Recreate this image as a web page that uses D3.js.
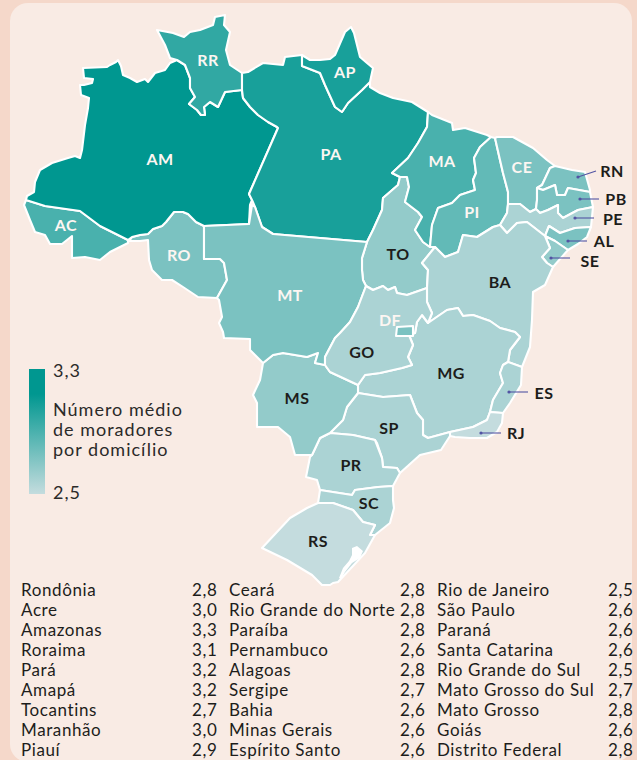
<!DOCTYPE html>
<html lang="pt">
<head>
<meta charset="utf-8">
<title>Número médio de moradores por domicílio</title>
<script src="https://cdn.jsdelivr.net/npm/d3@7"></script>
<style>
  html, body { margin: 0; padding: 0; background: #f5d8ca; }
  text { font-family: Lato, "Noto Sans", sans-serif; }
</style>
</head>
<body>
<div id="chart"></div>
<script>
// table order, same as the three columns under the map
const stateNames = ['Rondônia', 'Acre', 'Amazonas', 'Roraima', 'Pará', 'Amapá', 'Tocantins', 'Maranhão', 'Piauí',
  'Ceará', 'Rio Grande do Norte', 'Paraíba', 'Pernambuco', 'Alagoas', 'Sergipe', 'Bahia', 'Minas Gerais', 'Espírito Santo',
  'Rio de Janeiro', 'São Paulo', 'Paraná', 'Santa Catarina', 'Rio Grande do Sul', 'Mato Grosso do Sul', 'Mato Grosso', 'Goiás', 'Distrito Federal'];
const stateCodes = ['RO', 'AC', 'AM', 'RR', 'PA', 'AP', 'TO', 'MA', 'PI',
  'CE', 'RN', 'PB', 'PE', 'AL', 'SE', 'BA', 'MG', 'ES',
  'RJ', 'SP', 'PR', 'SC', 'RS', 'MS', 'MT', 'GO', 'DF'];
const stateValues = [2.8, 3.0, 3.3, 3.1, 3.2, 3.2, 2.7, 3.0, 2.9,
  2.8, 2.8, 2.8, 2.6, 2.8, 2.7, 2.6, 2.6, 2.6,
  2.5, 2.6, 2.6, 2.6, 2.5, 2.7, 2.8, 2.6, 2.8];
const legendDomain = [2.5, 3.3];
const legendLines = ['Número médio', 'de moradores', 'por domicílio'];

// state outlines
const outlines = {
  AM: [[26,200],[27,196],[34,192],[35,182],[40,170],[52,163],[68,158],[75,156],[80,158],[82,150],[85,125],[88,108],[89,98],[81,95],[80,85],[84,85],[92,83],[93,79],[84,78],[83,68],[107,67],[110,65],[116,62],[118,60],[121,66],[123,75],[130,78],[137,82],[145,79],[148,82],[155,73],[165,70],[170,63],[177,60],[185,65],[190,78],[190,88],[195,97],[189,104],[197,110],[201,115],[205,115],[204,107],[210,102],[218,107],[225,92],[242,90],[243,98],[250,107],[258,115],[268,122],[277,127],[278,128],[249,194],[252,200],[250,205],[249,224],[204,226],[196,222],[188,214],[183,212],[174,212],[166,222],[162,226],[153,229],[148,234],[140,235],[132,237],[128,240],[100,226],[80,211],[45,206]],
  AC: [[26,200],[45,206],[80,211],[100,226],[128,240],[128,243],[110,252],[100,260],[85,257],[72,258],[72,236],[62,244],[50,244],[45,235],[35,232],[30,220],[24,205]],
  RO: [[174,212],[183,212],[188,214],[196,222],[204,226],[204,259],[220,259],[224,263],[227,280],[217,298],[198,297],[183,287],[172,280],[162,280],[152,270],[149,260],[148,240],[140,241],[129,241],[132,237],[140,235],[148,234],[153,229],[162,226],[166,222]],
  RR: [[157,30],[173,33],[184,37],[190,32],[200,30],[213,25],[215,17],[225,15],[224,25],[230,32],[226,50],[230,65],[242,73],[242,90],[225,92],[218,107],[210,102],[204,107],[205,115],[201,115],[197,110],[189,104],[195,97],[190,88],[190,78],[185,65],[177,60],[170,58],[165,45]],
  PA: [[242,73],[248,72],[263,63],[283,65],[285,57],[302,55],[302,66],[320,73],[325,85],[335,107],[342,112],[348,103],[362,90],[370,82],[370,87],[380,93],[393,98],[412,102],[428,112],[427,127],[418,143],[408,158],[392,173],[400,177],[398,185],[383,198],[382,210],[373,230],[367,242],[273,234],[262,227],[255,207],[252,200],[249,194],[278,128],[277,127],[268,122],[258,115],[250,107],[243,98],[242,90]],
  AP: [[302,55],[302,66],[320,73],[325,85],[335,107],[342,112],[348,103],[362,90],[370,82],[373,68],[367,63],[360,57],[354,33],[351,27],[345,32],[335,55],[330,59],[320,60],[310,60]],
  MT: [[204,226],[249,224],[252,205],[255,207],[262,227],[273,234],[367,242],[362,258],[362,270],[363,280],[366,286],[358,307],[350,322],[340,333],[335,338],[325,357],[325,365],[315,363],[318,353],[307,357],[283,353],[273,355],[263,363],[250,350],[250,339],[224,338],[223,332],[219,323],[222,317],[219,300],[217,298],[227,280],[224,263],[220,259],[204,259]],
  TO: [[400,177],[407,177],[409,187],[405,202],[418,212],[422,217],[415,230],[423,242],[430,247],[435,247],[422,263],[428,270],[427,288],[407,295],[397,293],[395,287],[388,290],[383,286],[373,290],[366,286],[363,280],[362,270],[362,258],[367,242],[373,230],[382,210],[383,198],[398,185]],
  MA: [[428,112],[432,115],[452,123],[453,130],[465,128],[487,135],[491,137],[480,147],[474,158],[476,173],[473,180],[475,190],[460,195],[452,203],[438,208],[432,225],[430,247],[423,242],[415,230],[422,217],[418,212],[405,202],[409,187],[407,177],[400,177],[392,173],[408,158],[418,143],[427,127]],
  PI: [[491,137],[495,138],[500,160],[503,173],[508,192],[508,204],[507,213],[500,225],[493,227],[477,237],[463,235],[458,252],[445,257],[435,247],[430,247],[432,225],[438,208],[452,203],[460,195],[475,190],[473,180],[476,173],[474,158],[480,147]],
  CE: [[495,138],[497,137],[513,137],[533,148],[547,160],[555,166],[550,168],[542,185],[537,188],[537,200],[536,209],[530,212],[520,204],[508,204],[508,192],[503,173],[500,160]],
  RN: [[555,166],[572,170],[585,172],[590,190],[590,192],[568,188],[565,195],[557,195],[555,185],[543,190],[537,188],[542,185],[550,168]],
  PB: [[537,188],[543,190],[555,185],[557,195],[565,195],[568,188],[590,192],[593,207],[578,210],[563,218],[558,213],[558,205],[548,210],[540,213],[536,209],[537,200]],
  PE: [[508,204],[520,204],[530,212],[536,209],[540,213],[548,210],[558,205],[558,213],[563,218],[578,210],[593,207],[591,227],[575,228],[560,233],[549,226],[545,236],[527,222],[517,223],[507,233],[500,225],[507,213]],
  AL: [[545,236],[549,226],[560,233],[575,228],[591,227],[587,237],[578,244],[568,250],[555,241]],
  SE: [[545,236],[555,241],[568,250],[553,267],[547,263],[542,257],[550,248]],
  BA: [[435,247],[445,257],[458,252],[463,235],[477,237],[493,227],[500,225],[507,233],[517,223],[527,222],[545,236],[550,248],[542,257],[547,263],[553,267],[545,285],[533,292],[532,320],[530,347],[522,367],[508,362],[510,350],[520,337],[515,332],[500,328],[490,321],[473,315],[463,316],[458,308],[447,310],[428,323],[432,313],[427,302],[427,288],[428,270],[422,263]],
  MG: [[428,323],[447,310],[458,308],[463,316],[473,315],[490,321],[500,328],[515,332],[520,337],[510,350],[508,362],[503,365],[500,373],[503,383],[493,400],[490,412],[487,420],[473,427],[450,432],[428,438],[423,435],[423,420],[417,413],[410,395],[383,397],[358,393],[358,385],[365,375],[380,373],[402,368],[412,365],[408,357],[413,345],[409,335],[415,333],[417,322],[422,315]],
  ES: [[508,362],[522,367],[521,385],[510,403],[503,413],[490,412],[493,400],[503,383],[500,373],[503,365]],
  RJ: [[450,432],[473,427],[487,420],[490,412],[503,413],[502,423],[497,432],[487,438],[470,438],[455,437],[450,436]],
  SP: [[358,393],[383,397],[410,395],[417,413],[423,420],[423,435],[428,438],[450,432],[450,436],[441,450],[420,455],[400,473],[397,468],[383,467],[382,458],[377,443],[375,440],[353,435],[330,433],[343,420],[347,407]],
  PR: [[330,433],[353,435],[375,440],[382,458],[383,467],[397,468],[400,473],[393,486],[378,487],[355,490],[352,495],[320,490],[317,480],[306,477],[310,457],[312,455],[320,438]],
  SC: [[320,490],[352,495],[355,490],[378,487],[393,486],[393,500],[394,508],[390,523],[375,535],[370,535],[375,525],[363,522],[353,510],[333,503],[318,503]],
  RS: [[318,503],[333,503],[353,510],[363,522],[375,525],[370,535],[375,535],[365,553],[352,567],[338,582],[333,583],[330,585],[322,585],[312,575],[287,560],[262,548],[290,518],[307,508]],
  MS: [[263,363],[273,355],[283,353],[307,357],[318,353],[315,363],[325,365],[330,372],[358,385],[358,393],[347,407],[343,420],[330,433],[320,438],[312,455],[295,455],[290,437],[278,427],[257,427],[257,403],[253,395],[260,380]],
  GO: [[366,286],[373,290],[383,286],[388,290],[395,287],[397,293],[407,295],[427,288],[427,302],[432,313],[428,323],[422,315],[417,322],[415,333],[409,335],[413,345],[408,357],[412,365],[402,368],[380,373],[365,375],[358,385],[330,372],[325,365],[325,357],[335,338],[340,333],[350,322],[358,307]],
  DF: [[397,327],[413,326],[413,336],[396,336]]
};
const lagoon = [[352,548],[357,546],[363,551],[360,558],[352,563],[345,572],[341,579],[339,578],[343,568],[349,561],[352,555]];

const labelAnchors = {
  RO: [179,255], AC: [66,225], AM: [160,159], RR: [208,60], PA: [331,154], AP: [345,72], TO: [398,254], MA: [442,161], PI: [472,212],
  CE: [522,167], RN: [612,171], PB: [616,199], PE: [613,219], AL: [604,241], SE: [590,261], BA: [500,282], MG: [451,373], ES: [544,393],
  RJ: [516,433], SP: [389,428], PR: [351,465], SC: [369,503], RS: [318,541], MS: [297,398], MT: [290,295], GO: [362,352], DF: [390,320]
};
const whiteLabels = ['RO', 'AC', 'AM', 'RR', 'PA', 'AP', 'MA', 'PI', 'CE', 'MT', 'DF'];
const leaders = [
  { from: [578,177], to: [596,171] }, // RN
  { from: [580,199], to: [599,199] }, // PB
  { from: [575,218], to: [594,218] }, // PE
  { from: [568,241], to: [587,241] }, // AL
  { from: [551,258], to: [570,258] }, // SE
  { from: [509,392], to: [528,392] }, // ES
  { from: [481,433], to: [501,433] }  // RJ
];

function drawChart() {
  const w = 637;
  const h = 760;
  const svg = d3.select('#chart').append('svg').attr('width', w).attr('height', h).style('display', 'block');

  // card behind everything
  svg.append('rect').attr('x', 10).attr('y', 3).attr('width', 622).attr('height', 759).attr('rx', 18)
    .attr('fill', '#f9ebe4');

  const color = d3.scaleLinear().domain(legendDomain).range(['#c4dcde', '#009790']).interpolate(d3.interpolateRgb);
  const valueByCode = new Map(stateCodes.map((c, i) => [c, stateValues[i]]));

  const features = stateCodes.map((code) => ({
    type: 'Feature',
    properties: { code },
    geometry: { type: 'Polygon', coordinates: [outlines[code].concat([outlines[code][0]])] },
  }));
  const path = d3.geoPath(d3.geoIdentity());

  svg.append('g').selectAll('path')
    .data(features)
    .enter()
    .append('path')
    .attr('d', path)
    .attr('fill', (d) => color(valueByCode.get(d.properties.code)))
    .attr('stroke', '#fff')
    .attr('stroke-width', 2.1)
    .attr('stroke-linejoin', 'round');

  svg.append('path')
    .attr('d', path({ type: 'Polygon', coordinates: [lagoon.concat([lagoon[0]])] }))
    .attr('fill', '#fff');

  // leader lines for the small states
  const leaderG = svg.append('g');
  leaderG.selectAll('line').data(leaders).enter().append('line')
    .attr('x1', (d) => d.from[0]).attr('y1', (d) => d.from[1])
    .attr('x2', (d) => d.to[0]).attr('y2', (d) => d.to[1])
    .attr('stroke', '#5254a3').attr('stroke-width', 1.1);
  leaderG.selectAll('circle').data(leaders).enter().append('circle')
    .attr('cx', (d) => d.from[0]).attr('cy', (d) => d.from[1]).attr('r', 1.6)
    .attr('fill', '#5254a3');

  // state codes
  svg.append('g').selectAll('text')
    .data(stateCodes)
    .enter()
    .append('text')
    .attr('x', (d) => labelAnchors[d][0])
    .attr('y', (d) => labelAnchors[d][1])
    .attr('dy', '0.36em')
    .attr('text-anchor', 'middle')
    .attr('font-size', 16)
    .attr('font-weight', 700)
    .attr('letter-spacing', 0.5)
    .attr('fill', (d) => (whiteLabels.includes(d) ? '#fdf6f2' : '#1d1d1b'))
    .text((d) => d);

  // legend
  const defs = svg.append('defs');
  const grad = defs.append('linearGradient').attr('id', 'legend-grad').attr('x1', 0).attr('x2', 0).attr('y1', 0).attr('y2', 1);
  grad.append('stop').attr('offset', '20%').attr('stop-color', color(legendDomain[1]));
  grad.append('stop').attr('offset', '100%').attr('stop-color', color(legendDomain[0]));
  const legendY = d3.scaleLinear().domain(legendDomain).range([494, 369]);
  svg.append('rect').attr('x', 29).attr('y', legendY(legendDomain[1])).attr('width', 16)
    .attr('height', legendY(legendDomain[0]) - legendY(legendDomain[1]))
    .attr('fill', 'url(#legend-grad)');

  const legendG = svg.append('g').attr('font-size', 18).attr('fill', '#2b2a29').attr('letter-spacing', 1);
  legendG.append('text').attr('x', 53).attr('y', 377).text('3,3');
  legendG.append('text').attr('x', 53).attr('y', 499).text('2,5');
  legendG.selectAll('text.line').data(legendLines).enter().append('text')
    .attr('class', 'line')
    .attr('x', 53)
    .attr('y', (d, i) => 416 + i * 20)
    .text((d) => d);

  // table, three columns of nine rows
  const colX = d3.scaleOrdinal().domain([0, 1, 2]).range([21, 229, 437]);
  const rowY = d3.scaleLinear().domain([0, 8]).range([596, 756]);
  const rows = svg.append('g').attr('font-size', 17).attr('fill', '#1d1d1b').attr('letter-spacing', 0.6)
    .selectAll('g')
    .data(stateNames)
    .enter()
    .append('g')
    .attr('transform', (d, i) => `translate(${colX(Math.floor(i / 9))},${rowY(i % 9)})`);
  rows.append('text').text((d) => d);
  rows.append('text').attr('x', 171).text((d, i) => stateValues[i].toFixed(1).replace('.', ','));
}

window.onload = function () {
  drawChart();
};
</script>
</body>
</html>
